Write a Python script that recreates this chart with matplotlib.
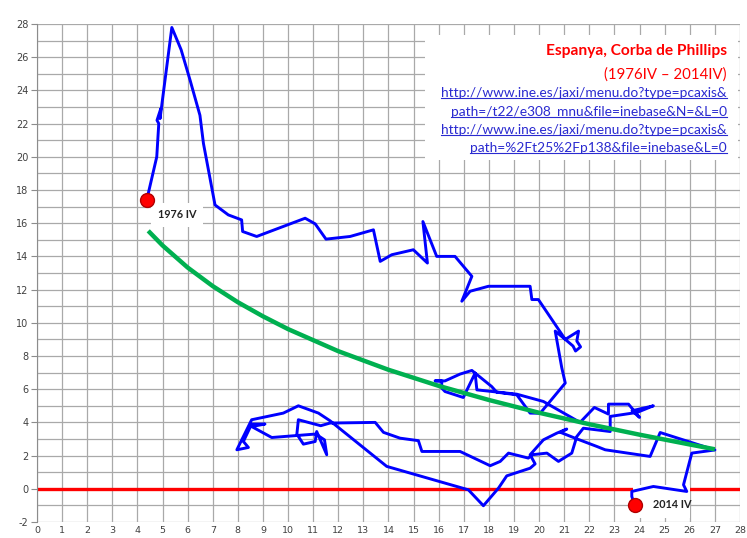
import matplotlib
matplotlib.use("Agg")
import matplotlib.pyplot as plt
from matplotlib.lines import Line2D
from matplotlib.patches import Rectangle

plt.rcParams["axes.unicode_minus"] = False

# ---------------- data ----------------
unemployment = [4.37, 4.77, 4.85, 4.78, 4.93, 4.90, 5.37, 5.74, 6.10, 6.49, 6.63, 7.09, 7.62, 8.15, 8.19,
                8.75, 10.68, 11.08, 11.51, 12.47, 13.40, 13.67, 14.13, 14.99, 15.55, 15.37, 15.92, 16.65,
                17.32, 16.92, 17.25, 17.98, 19.64, 19.71, 19.97, 21.04, 21.57, 21.50, 21.65, 21.45, 21.35,
                21.04, 20.64, 20.90, 21.04, 20.04, 19.64, 19.11, 18.31, 18.11, 17.45, 17.32, 16.85, 16.25,
                15.86, 16.12, 16.12, 16.25, 16.98, 17.45, 17.52, 19.11, 20.17, 21.63, 22.20, 22.76, 22.76,
                23.56, 24.00, 23.70, 24.55, 23.90, 22.83, 22.83, 21.76, 21.50, 21.30, 20.77, 20.31, 19.71,
                19.57, 18.78, 18.45, 18.05, 16.85, 15.33, 15.19, 14.46, 13.80, 13.47, 11.67, 11.30, 10.41,
                10.35, 10.61, 11.08, 11.14, 11.54, 11.45, 11.10, 9.35, 8.55, 9.08, 8.55, 8.22, 8.42, 7.96,
                8.55, 9.81, 10.41, 11.21, 11.67, 13.93, 17.18, 17.78, 18.38, 18.71, 19.64, 19.84, 19.64,
                20.17, 20.70, 21.10, 20.85, 21.43, 22.30, 22.63, 24.42, 24.82, 27.00, 26.08, 25.75, 25.88,
                24.55, 23.69, 23.69, 23.80]
inflation = [17.39, 20.0, 22.0, 22.2, 22.9, 22.3, 27.79, 26.45, 24.6, 22.5, 20.8, 17.1, 16.5, 16.2, 15.5,
             15.2, 16.3, 15.96, 15.04, 15.2, 15.6, 13.7, 14.1, 14.4, 13.6, 16.1, 14.0, 14.0,
             12.8, 11.3, 11.9, 12.2, 12.2, 11.4, 11.4, 9.0, 9.5, 8.9, 8.55, 8.3, 8.6,
             9.0, 9.5, 7.3, 6.37, 4.55, 4.56, 5.66, 5.82, 6.16, 6.97, 7.13, 6.91, 6.5,
             6.5, 6.5, 6.07, 5.86, 5.5, 6.97, 5.96, 5.7, 5.26, 4.0, 4.9, 4.5, 5.1,
             5.1, 4.3, 4.7, 5.0, 4.6, 4.36, 3.45, 3.65, 3.15, 2.15, 1.65, 2.15, 2.05,
             1.85, 2.15, 1.65, 1.39, 2.25, 2.25, 2.9, 3.05, 3.4, 4.0, 3.96, 3.8, 4.16,
             3.29, 2.69, 2.85, 3.45, 2.05, 2.95, 3.3, 3.09, 3.75, 3.9, 3.9, 2.85, 2.49, 2.35,
             4.16, 4.56, 5.0, 4.56, 4.1, 1.35, -0.06, -1.02, 0.04, 0.78, 1.24, 1.5, 2.05,
             2.95, 3.35, 3.6, 3.4, 3.05, 2.55, 2.35, 1.95, 3.39, 2.34, 2.15, 0.24, -0.16,
             0.14, -0.16, -0.46, -0.96]

trend_x = [4.43, 5, 6, 7, 8, 9, 10, 12, 14, 16, 18, 20, 22, 24, 26, 27]
trend_y = [15.54, 14.66, 13.33, 12.21, 11.24, 10.39, 9.62, 8.29, 7.17, 6.20, 5.35, 4.58, 3.89, 3.26, 2.67, 2.38]

zero_line_y = 0
x_ticks = list(range(0, 29))
y_ticks = list(range(-2, 29, 2))
y_minor = list(range(-1, 28, 2))

title = "Espanya, Corba de Phillips"
subtitle = "(1976IV \u2013 2014IV)"
links = ["http://www.ine.es/jaxi/menu.do?type=pcaxis&",
         "path=/t22/e308_mnu&file=inebase&N=&L=0",
         "http://www.ine.es/jaxi/menu.do?type=pcaxis&",
         "path=%2Ft25%2Fp138&file=inebase&L=0"]
start_label = "1976 IV"
end_label = "2014 IV"

# ---------------- figure ----------------
W, H = 747, 538
fig = plt.figure(figsize=(W / 100, H / 100), dpi=100)
fig.patch.set_facecolor("white")
ax = fig.add_axes([37 / W, 1 - 522 / H, (740 - 37) / W, (522 - 24) / H])
ax.set_xlim(0, 28)
ax.set_ylim(-2, 28)

grid_c = "#a9a9a9"
ax.set_xticks(x_ticks)
ax.set_yticks(y_ticks)
ax.set_yticks(y_minor, minor=True)
ax.grid(True, which="both", color=grid_c, lw=0.9, zorder=0)
ax.set_axisbelow(True)
for s in ["top", "right", "bottom"]:
    ax.spines[s].set_visible(False)
ax.spines["left"].set_color("#8c8c8c")
ax.tick_params(axis="y", which="major", length=4, color="#8c8c8c", labelsize=7, labelcolor="#404040", pad=2)
ax.tick_params(axis="y", which="minor", length=0)
ax.tick_params(axis="x", length=0, labelsize=6.8, labelcolor="#404040", pad=3)

ax.axhline(zero_line_y, color="#ff0000", lw=2.4, zorder=2)

ax.plot(unemployment, inflation, color="#0000ff", lw=2.1, zorder=4, solid_joinstyle="round")
ax.plot(trend_x, trend_y, color="#00b050", lw=3.2, zorder=5, solid_capstyle="butt")

ax.plot([unemployment[0]], [inflation[0]], "o", ms=10, mfc="#ff0000", mec="#b00000", mew=1, zorder=6)
ax.plot([unemployment[-1]], [inflation[-1]], "o", ms=10, mfc="#ff0000", mec="#b00000", mew=1, zorder=6)

lab_font = dict(family=["Lato", "DejaVu Sans"], fontweight="bold", fontsize=7.8, color="#222222")
ax.text(5.58, 16.5, start_label, ha="center", va="center", zorder=3,
        bbox=dict(boxstyle="square,pad=0.6", fc="white", ec="none"), **lab_font)
# white label area of the end label (hides the zero line there)
ax.add_patch(Rectangle((23.75, -1.75), 2.25, 1.95, facecolor="white", edgecolor="none", zorder=3))
ax.text(25.3, -0.96, end_label, ha="center", va="center", zorder=3, **lab_font)

# title box
ax.add_patch(Rectangle((425 / W, 1 - 160 / H), (738 - 425) / W, 125 / H, transform=fig.transFigure,
                       facecolor="white", edgecolor="none", zorder=7, clip_on=False))

xr = 727 / W
fig.text(xr, 1 - 51 / H, title, ha="right", va="center", color="#ff0000", fontweight="bold",
         fontsize=11.2, family=["Lato", "DejaVu Sans"], zorder=10)
fig.text(xr, 1 - 75 / H, subtitle, ha="right", va="center", color="#ff0000",
         fontsize=10.8, family=["Lato", "DejaVu Sans"], zorder=10)
link_texts = []
for k, (txt, yy) in enumerate(zip(links, [93, 112, 130, 148])):
    t = fig.text(xr, 1 - yy / H, txt, ha="right", va="center", color="#2a2ad0",
                 fontsize=9.9, family=["Lato", "DejaVu Sans"], zorder=10)
    link_texts.append(t)

fig.canvas.draw()
r = fig.canvas.get_renderer()
for t in link_texts:
    bb = t.get_window_extent(r)
    fig.add_artist(Line2D([bb.x0, bb.x1], [bb.y0 + 1.5, bb.y0 + 1.5], transform=None, color="#2a2ad0", lw=0.8))

fig.savefig("out.png", dpi=100, facecolor="white")
